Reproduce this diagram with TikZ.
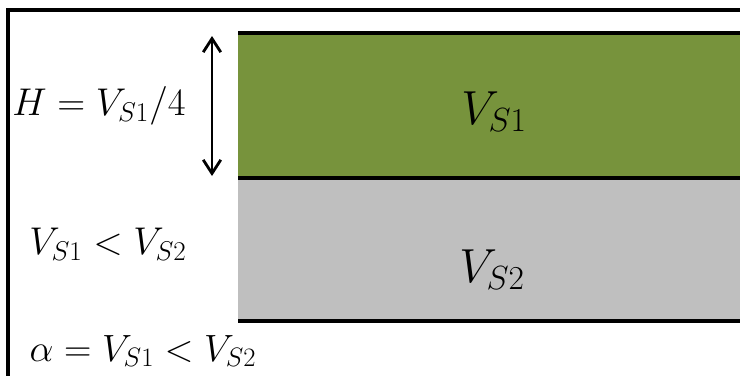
\RequirePackage{fix-cm}
\documentclass[tikz,border=0pt]{standalone}
\usetikzlibrary{arrows.meta}
\definecolor{layergreen}{HTML}{77933C}
\definecolor{layergray}{HTML}{BFBFBF}

\begin{document}
\begin{tikzpicture}[x=0.025cm, y=-0.025cm,
  frame/.style={line width=2.2pt, black},
  iface/.style={line width=3pt, black},
  arrow/.style={{Straight Barb[length=3.4mm, width=4.4mm]}-{Straight Barb[length=3.4mm, width=4.4mm]}, line width=2pt},
  eqn/.style={font=\fontsize{27.5}{33}\selectfont, inner sep=0pt},
  layer/.style={font=\fontsize{34}{40}\selectfont, inner sep=0pt},
]
\useasboundingbox (0,0) rectangle (740,376);

% === FRAME ===
\draw[frame] (740,10) -- (8,10) -- (8,376);

% === LAYERS ===
\fill[layergreen] (238,33) rectangle (740,178);
\fill[layergray] (238,178) rectangle (740,321);
\draw[iface] (238,33) -- (740,33);
\draw[iface] (238,178) -- (740,178);
\draw[iface] (238,321) -- (740,321);

\node[layer] (vs1) at (494,112) {$V_{S1}$};
\node[layer] (vs2) at (492,270) {$V_{S2}$};

% === THICKNESS ARROW ===
\coordinate (htop) at (212,36);
\coordinate (hbot) at (212,176);
\draw[arrow] (htop) -- (hbot);

% === LABELS ===
\node[eqn] (hlab) at (99,106) {$H = V_{S1}/4$};
\node[eqn] (ineq) at (108,244) {$V_{S1} < V_{S2}$};
\node[eqn, font=\fontsize{27}{32}\selectfont] (alab) at (143,351) {$\alpha = V_{S1} < V_{S2}$};
\end{tikzpicture}
\end{document}
